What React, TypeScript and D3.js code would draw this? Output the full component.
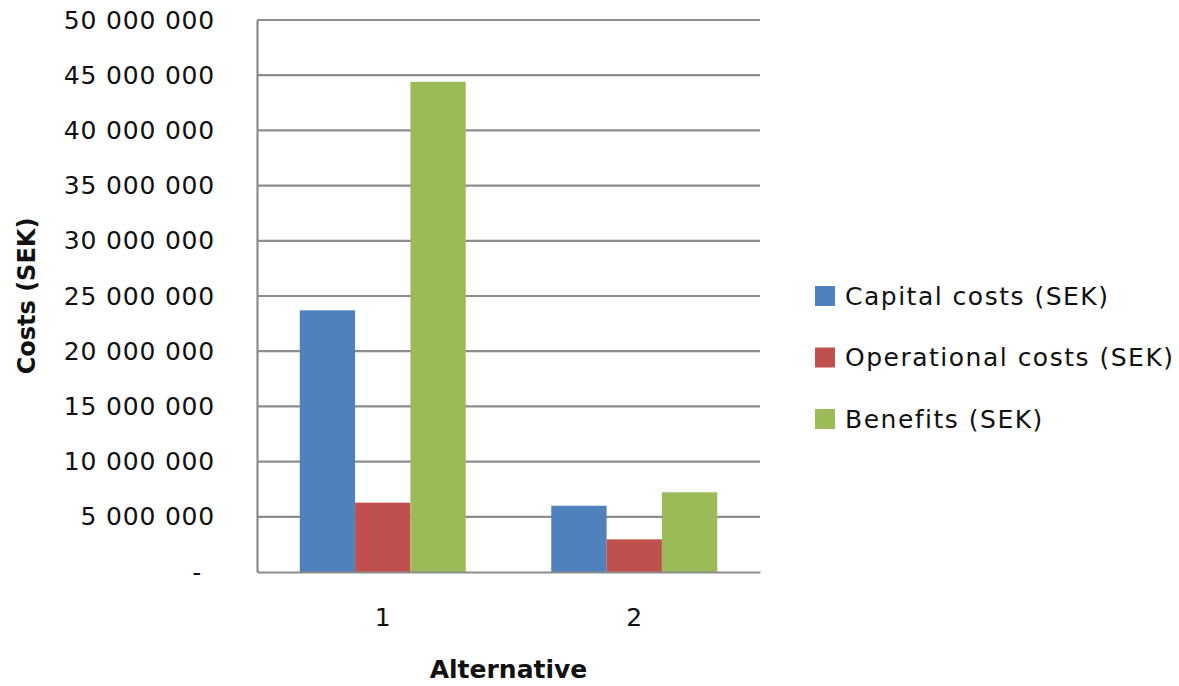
import React, { useEffect, useRef } from "react";
import * as d3 from "d3";

// Cost/benefit comparison of two alternatives (SEK)
const categories = ["1", "2"];
const seriesNames = ["Capital costs (SEK)", "Operational costs (SEK)", "Benefits (SEK)"];
const capitalCosts = [23700000, 6000000];
const operationalCosts = [6280000, 2960000];
const benefits = [44400000, 7220000];
const yTicks = [0, 5e6, 10e6, 15e6, 20e6, 25e6, 30e6, 35e6, 40e6, 45e6, 50e6];
const seriesColors = ["#4F81BD", "#C0504D", "#9BBB59"];

const W = 1179;
const H = 686;
const margin = { left: 257, right: 419, top: 20, bottom: 114 };
const FONT = "'DejaVu Sans', Verdana, sans-serif";

export default function App() {
  const ref = useRef<SVGSVGElement>(null);

  useEffect(() => {
    const svg = d3.select(ref.current);
    svg.selectAll("*").remove();

    const x0 = margin.left;
    const x1 = W - margin.right;
    const y0 = H - margin.bottom;
    const y1 = margin.top;

    const y = d3.scaleLinear().domain([0, 50e6]).range([y0, y1]);
    const xCat = d3.scaleBand().domain(categories).range([x0, x1]).paddingInner(0.34).paddingOuter(0.17);
    const xSer = d3.scaleBand().domain(seriesNames).range([0, xCat.bandwidth()]);

    const values = [capitalCosts, operationalCosts, benefits];

    // gridlines
    svg
      .append("g")
      .selectAll("line")
      .data(yTicks.filter((t) => t > 0))
      .join("line")
      .attr("x1", x0)
      .attr("x2", x1)
      .attr("y1", (d) => y(d))
      .attr("y2", (d) => y(d))
      .attr("stroke", "#8c8c8c")
      .attr("stroke-width", 2.2);

    // bars
    const groups = svg
      .append("g")
      .selectAll("g")
      .data(categories)
      .join("g")
      .attr("transform", (c) => `translate(${xCat(c)},0)`);

    groups
      .selectAll("rect")
      .data((c, ci) => seriesNames.map((s, si) => ({ s, si, v: values[si][ci] })))
      .join("rect")
      .attr("x", (d) => xSer(d.s)!)
      .attr("width", xSer.bandwidth())
      .attr("y", (d) => y(d.v))
      .attr("height", (d) => y0 - y(d.v))
      .attr("fill", (d) => seriesColors[d.si]);

    // y axis
    const fmt = (v: number) => (v === 0 ? "-" : d3.format(",")(v).replace(/,/g, " "));
    const yAxis = svg
      .append("g")
      .attr("transform", `translate(${x0},0)`)
      .call(d3.axisLeft(y).tickValues(yTicks).tickFormat((d) => fmt(+d)).tickSize(0).tickPadding(42));
    yAxis.select(".domain").attr("stroke", "#8c8c8c").attr("stroke-width", 2.2);
    yAxis
      .selectAll("text")
      .attr("font-family", FONT)
      .attr("font-size", 25)
      .attr("letter-spacing", 0.8)
      .attr("fill", "#111")
      .attr("dx", (d: any) => (d === 0 ? -13 : 0));

    // x axis
    const xAxis = svg
      .append("g")
      .attr("transform", `translate(0,${y0})`)
      .call(d3.axisBottom(xCat).tickSize(0).tickPadding(36));
    xAxis.select(".domain").attr("stroke", "#8c8c8c").attr("stroke-width", 2.2);
    xAxis.selectAll("text").attr("font-family", FONT).attr("font-size", 25).attr("fill", "#111");

    // axis titles
    svg
      .append("text")
      .attr("transform", `translate(35,${(y0 + y1) / 2}) rotate(-90)`)
      .attr("text-anchor", "middle")
      .attr("font-family", FONT)
      .attr("font-weight", "bold")
      .attr("font-size", 24)
      .attr("fill", "#111")
      .text("Costs (SEK)");

    svg
      .append("text")
      .attr("x", (x0 + x1) / 2)
      .attr("y", 678)
      .attr("text-anchor", "middle")
      .attr("font-family", FONT)
      .attr("font-weight", "bold")
      .attr("font-size", 25)
      .attr("fill", "#111")
      .text("Alternative");

    // legend
    const legend = svg.append("g").attr("transform", "translate(815,296)");
    const rows = legend
      .selectAll("g")
      .data(seriesNames)
      .join("g")
      .attr("transform", (_, i) => `translate(0,${i * 61.5})`);
    rows
      .append("rect")
      .attr("x", 0)
      .attr("y", -10)
      .attr("width", 20)
      .attr("height", 20)
      .attr("fill", (_, i) => seriesColors[i]);
    rows
      .append("text")
      .attr("x", 30)
      .attr("y", 0)
      .attr("dy", "0.35em")
      .attr("font-family", FONT)
      .attr("font-size", 25)
      .attr("letter-spacing", 1.5)
      .attr("fill", "#111")
      .text((d) => d);
  }, []);

  return (
    <svg
      ref={ref}
      width={W}
      height={H}
      style={{ position: "absolute", left: 0, top: 0, background: "#fff" }}
    />
  );
}
